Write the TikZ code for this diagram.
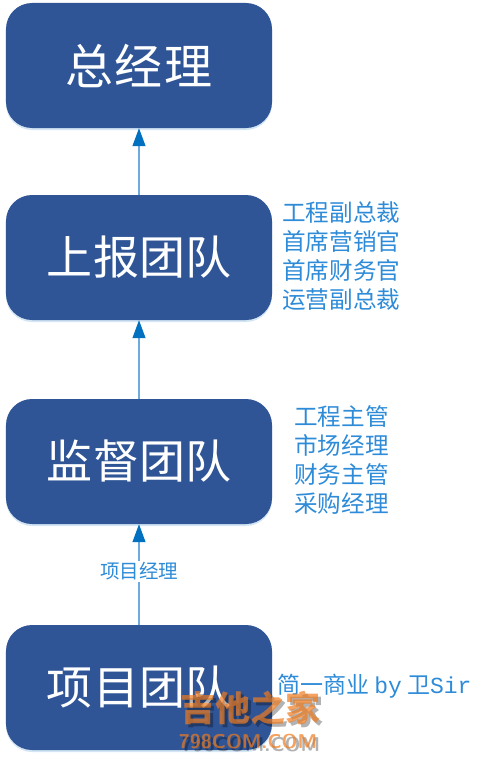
\documentclass[tikz,border=0pt]{standalone}
\usepackage{fontspec}
\setmainfont{Noto Sans CJK SC}
\newfontfamily\latinfont{Liberation Mono}
\usetikzlibrary{shapes.geometric, arrows.meta, shadows}
\definecolor{teamblue}{HTML}{2F5597}
\definecolor{linkblue}{HTML}{6FAADC}
\definecolor{tipblue}{HTML}{0070C0}
\definecolor{rosterblue}{HTML}{2E8BD8}
\definecolor{markorange}{HTML}{EE7B1E}
\newcommand{\lifted}[1]{\raisebox{3bp}{#1}}
\tikzset{
    team/.style = {
        rectangle, rounded corners=26bp, fill=teamblue, text=white,
        minimum width=266bp,
        minimum height=125bp,
        inner sep=0pt,
        font=\fontsize{46bp}{50bp}\selectfont,
        drop shadow={shadow xshift=0bp, shadow yshift=-2bp, fill=linkblue, opacity=0.3},
        align=center
    },
    roster/.style = {
        text=rosterblue, inner sep=0pt,
        font=\fontsize{23.6bp}{29bp}\selectfont,
        align=center
    },
    arrow/.style = {
        -{Triangle[length=18bp, width=13bp, color=tipblue]}, draw=linkblue, line width=1.2bp
    },
    stamp/.style = {
        text=markorange, opacity=0.7, inner sep=0pt
    },
    stampshade/.style = {
        text=black, opacity=0.3, inner sep=0pt
    }
}
\begin{document}
\begin{tikzpicture}[x=1bp, y=1bp]
\useasboundingbox (0,0) rectangle (491,-761);

\node (boss) [team, font=\fontsize{48bp}{50bp}\selectfont\addfontfeature{LetterSpace=3}] at (139,-65.5) {\lifted{总经理}};
\node (report) [team, below of=boss, node distance=192bp] {\lifted{上报团队}};
\node (super) [team, below of=report, node distance=204bp] {\lifted{监督团队}};
\node (project) [team, below of=super, node distance=226bp] {\lifted{项目团队}};

\node (reportlist) [roster, anchor=west] at (282,-256) {工程副总裁\\首席营销官\\首席财务官\\运营副总裁};
\node (superlist) [roster, anchor=west] at (294,-460) {工程主管\\市场经理\\财务主管\\采购经理};
\node (credit) [roster, anchor=west, font=\fontsize{23bp}{26bp}\selectfont] at (277,-686) {简一商业 {\latinfont by} 卫{\latinfont Sir}};

\draw [arrow] (report) -- (boss);
\draw [arrow] (super) -- (report);
\draw [arrow] (project) -- node (pm) [fill=white, text=rosterblue, inner sep=2bp, pos=0.53, font=\fontsize{19.5bp}{22bp}\selectfont] {项目经理} (super);

\node (stampshade1) [stampshade, font=\fontsize{35bp}{38bp}\selectfont\bfseries] at (253,-711) {吉他之家};
\node (stampshade2) [stampshade, font=\fontsize{20bp}{22bp}\selectfont\bfseries\sffamily] at (251,-745) {798COM.COM};
\node (stamp1) [stamp, font=\fontsize{35bp}{38bp}\selectfont\bfseries] at (250,-708) {吉他之家};
\node (stamp2) [stamp, font=\fontsize{20bp}{22bp}\selectfont\bfseries\sffamily] at (248,-742) {798COM.COM};

\end{tikzpicture}
\end{document}
